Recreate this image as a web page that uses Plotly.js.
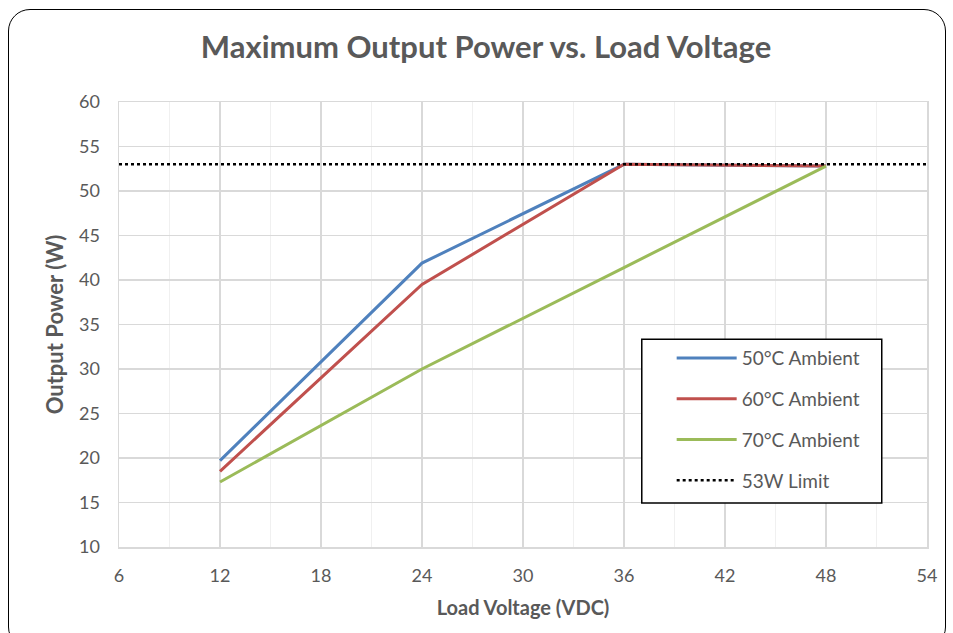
<!DOCTYPE html>
<html>
<head>
<meta charset="utf-8">
<script src="https://cdn.plot.ly/plotly-3.0.1.min.js"></script>
<style>
  html, body { margin: 0; padding: 0; background: #fff; width: 953px; height: 633px; overflow: hidden; }
  #frame { position: absolute; left: 8px; top: 9px; width: 938px; height: 640px; border: 1.5px solid #000; border-radius: 22px; box-sizing: border-box; }
  #chart { position: absolute; left: 0; top: 0; width: 953px; height: 633px; }
</style>
</head>
<body>
<div id="frame"></div>
<div id="chart"></div>
<script>
const voltage = [12, 24, 36, 48];
const ambient50 = [19.7, 41.9, 53.0, 52.8];
const ambient60 = [18.5, 39.5, 53.0, 52.8];
const ambient70 = [17.3, 30.0, 41.4, 52.8];
const limitX = [6, 54];
const limitY = [53, 53];
const seriesNames = ['50°C Ambient', '60°C Ambient', '70°C Ambient', '53W Limit'];

const font = 'Lato, "Open Sans", sans-serif';
const grey = '#595959';

const traces = [
  { x: voltage, y: ambient50, name: seriesNames[0], legendgroup: 'a', mode: 'lines', line: { color: '#4f81bd', width: 3 } },
  { x: voltage, y: ambient60, name: seriesNames[1], legendgroup: 'b', mode: 'lines', line: { color: '#c0504d', width: 3 } },
  { x: voltage, y: ambient70, name: seriesNames[2], legendgroup: 'c', mode: 'lines', line: { color: '#9bbb59', width: 3 } },
  { x: limitX, y: limitY, name: seriesNames[3], legendgroup: 'd', mode: 'lines', line: { color: '#000', width: 2.5, dash: 'dot' } }
];

const layout = {
  width: 953, height: 633,
  paper_bgcolor: 'rgba(0,0,0,0)', plot_bgcolor: '#fff',
  margin: { l: 119, r: 26, t: 102, b: 86 },
  font: { family: font, color: grey, size: 17 },
  title: { text: '<b>Maximum Output Power vs. Load Voltage</b>', x: 0.51, xanchor: 'center', y: 0.925, yanchor: 'middle', font: { family: font, size: 31, color: grey } },
  xaxis: {
    range: [6, 54], dtick: 6, tick0: 6, showline: true, mirror: true, linecolor: '#d9d9d9', linewidth: 1.5,
    gridcolor: '#d9d9d9', gridwidth: 1.5, zeroline: false, ticks: '', ticklabelstandoff: 12,
    minor: { dtick: 3, showgrid: true, gridcolor: '#f0f0f0', gridwidth: 1.5 },
    tickfont: { size: 18, color: grey },
    title: { text: '<b>Load Voltage (VDC)</b>', font: { size: 20, color: grey }, standoff: 16 }
  },
  yaxis: {
    range: [10, 60], dtick: 5, showline: true, mirror: true, linecolor: '#d9d9d9', linewidth: 1.5,
    gridcolor: '#d9d9d9', gridwidth: 1.5, zeroline: false, ticks: '', ticklabelstandoff: 14,
    tickfont: { size: 18, color: grey },
    title: { text: '<b>Output Power (W)</b>', font: { size: 22, color: grey }, standoff: 9 }
  },
  shapes: [{
    type: 'rect', xref: 'paper', yref: 'paper', layer: 'above',
    x0: 0.647, x1: 0.944, y0: 0.099, y1: 0.467,
    line: { color: '#000', width: 1.5 }, fillcolor: '#fff'
  }],
  legend: {
    x: 0.684, y: 0.467, xanchor: 'left', yanchor: 'top',
    borderwidth: 0, bgcolor: 'rgba(0,0,0,0)',
    font: { size: 19, color: grey }, tracegroupgap: 13, itemwidth: 60
  },
  showlegend: true
};

Plotly.newPlot('chart', traces, layout, { displayModeBar: false, staticPlot: true });
</script>
</body>
</html>
